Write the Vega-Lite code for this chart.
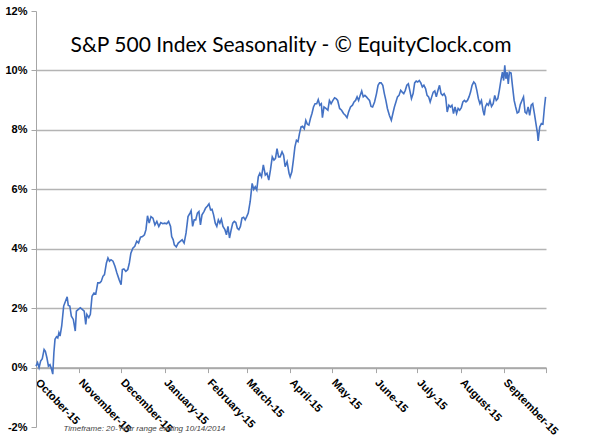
{
  "$schema": "https://vega.github.io/schema/vega-lite/v6.json",
  "autosize": {"type": "none"},
  "width": 510,
  "height": 416,
  "padding": {"left": 36, "top": 11, "right": 63, "bottom": 16},
  "background": "white",
  "title": {
    "text": "S&P 500 Index Seasonality - © EquityClock.com",
    "anchor": "middle",
    "frame": "group",
    "font": "Lato",
    "fontSize": 21,
    "fontWeight": "normal",
    "color": "#000000",
    "baseline": "alphabetic",
    "dy": 72
  },
  "config": {
    "view": {"stroke": null},
    "axis": {"labelFont": "Liberation Sans", "titleFont": "Liberation Sans"}
  },
  "data": {
    "values": [
      {"day": 0, "pct": 0.05}, {"day": 1.1, "pct": 0.17}, {"day": 2.2, "pct": 0.0}, {"day": 3.3, "pct": 0.22},
      {"day": 4.5, "pct": 0.3}, {"day": 5.8, "pct": 0.61}, {"day": 6.7, "pct": 0.55}, {"day": 7.8, "pct": 0.33},
      {"day": 8.9, "pct": 0.05}, {"day": 10.0, "pct": 0.1}, {"day": 11.1, "pct": -0.05}, {"day": 12.0, "pct": -0.22},
      {"day": 12.8, "pct": 0.5}, {"day": 13.6, "pct": 0.95}, {"day": 14.7, "pct": 1.04}, {"day": 15.6, "pct": 1.0},
      {"day": 16.4, "pct": 1.17}, {"day": 17.2, "pct": 1.06}, {"day": 18.4, "pct": 1.4}, {"day": 19.8, "pct": 2.07},
      {"day": 21.1, "pct": 2.23}, {"day": 22.3, "pct": 2.38}, {"day": 23.1, "pct": 2.09}, {"day": 24.2, "pct": 2.07},
      {"day": 25.3, "pct": 1.73}, {"day": 26.7, "pct": 1.62}, {"day": 28.1, "pct": 1.23}, {"day": 28.9, "pct": 1.9},
      {"day": 30.3, "pct": 1.96}, {"day": 31.7, "pct": 2.01}, {"day": 33.1, "pct": 1.96}, {"day": 34.5, "pct": 1.9},
      {"day": 35.6, "pct": 1.45}, {"day": 36.4, "pct": 1.79}, {"day": 37.8, "pct": 1.68}, {"day": 38.9, "pct": 1.79},
      {"day": 40.1, "pct": 2.4}, {"day": 41.5, "pct": 2.51}, {"day": 42.8, "pct": 2.48}, {"day": 44.2, "pct": 2.85},
      {"day": 45.6, "pct": 2.85}, {"day": 46.7, "pct": 2.9}, {"day": 47.9, "pct": 3.07}, {"day": 49.0, "pct": 3.13},
      {"day": 50.4, "pct": 3.52}, {"day": 51.5, "pct": 3.69}, {"day": 52.6, "pct": 3.58}, {"day": 53.7, "pct": 3.63},
      {"day": 55.1, "pct": 3.58}, {"day": 56.5, "pct": 3.41}, {"day": 57.9, "pct": 3.18}, {"day": 59.5, "pct": 2.96},
      {"day": 60.9, "pct": 2.79}, {"day": 61.8, "pct": 3.3}, {"day": 62.9, "pct": 3.32}, {"day": 64.3, "pct": 3.24},
      {"day": 65.7, "pct": 3.3}, {"day": 66.8, "pct": 3.52}, {"day": 67.9, "pct": 3.85}, {"day": 69.3, "pct": 4.02},
      {"day": 70.7, "pct": 4.08}, {"day": 72.1, "pct": 4.25}, {"day": 73.4, "pct": 4.19}, {"day": 74.8, "pct": 4.39},
      {"day": 76.2, "pct": 4.41}, {"day": 77.6, "pct": 4.47}, {"day": 78.7, "pct": 4.64}, {"day": 79.8, "pct": 5.11},
      {"day": 81.0, "pct": 4.86}, {"day": 82.3, "pct": 5.08}, {"day": 83.7, "pct": 5.03}, {"day": 85.1, "pct": 4.8},
      {"day": 86.5, "pct": 4.92}, {"day": 87.9, "pct": 4.75}, {"day": 89.3, "pct": 4.88}, {"day": 90.7, "pct": 4.84},
      {"day": 92.1, "pct": 4.86}, {"day": 93.5, "pct": 4.84}, {"day": 94.9, "pct": 4.92}, {"day": 96.3, "pct": 4.75},
      {"day": 97.1, "pct": 4.41}, {"day": 98.2, "pct": 4.3}, {"day": 99.0, "pct": 4.13}, {"day": 100.4, "pct": 4.06},
      {"day": 101.8, "pct": 4.19}, {"day": 103.2, "pct": 4.25}, {"day": 104.6, "pct": 4.3}, {"day": 106.0, "pct": 4.19},
      {"day": 107.4, "pct": 4.53}, {"day": 108.8, "pct": 5.08}, {"day": 110.2, "pct": 5.2}, {"day": 111.0, "pct": 5.28},
      {"day": 112.1, "pct": 4.75}, {"day": 113.2, "pct": 4.97}, {"day": 114.3, "pct": 4.97}, {"day": 115.5, "pct": 5.2},
      {"day": 116.6, "pct": 5.25}, {"day": 117.7, "pct": 4.8}, {"day": 118.8, "pct": 5.14}, {"day": 120.2, "pct": 5.25},
      {"day": 121.3, "pct": 5.36}, {"day": 122.7, "pct": 5.44}, {"day": 123.8, "pct": 5.51}, {"day": 124.9, "pct": 5.31},
      {"day": 126.0, "pct": 5.33}, {"day": 127.1, "pct": 5.14}, {"day": 128.3, "pct": 4.86}, {"day": 129.4, "pct": 4.75},
      {"day": 130.5, "pct": 4.97}, {"day": 131.6, "pct": 4.86}, {"day": 132.7, "pct": 4.99}, {"day": 133.8, "pct": 4.75},
      {"day": 135.2, "pct": 4.64}, {"day": 136.3, "pct": 4.47}, {"day": 137.4, "pct": 4.75}, {"day": 138.5, "pct": 4.36},
      {"day": 139.7, "pct": 4.64}, {"day": 140.8, "pct": 4.86}, {"day": 141.9, "pct": 4.92}, {"day": 143.0, "pct": 4.88},
      {"day": 144.1, "pct": 4.69}, {"day": 145.2, "pct": 4.64}, {"day": 146.3, "pct": 4.75}, {"day": 147.4, "pct": 5.03},
      {"day": 148.6, "pct": 5.06}, {"day": 149.7, "pct": 4.97}, {"day": 150.8, "pct": 5.08}, {"day": 151.9, "pct": 5.2},
      {"day": 153.3, "pct": 5.59}, {"day": 154.7, "pct": 6.2}, {"day": 155.8, "pct": 6.0}, {"day": 156.9, "pct": 6.09},
      {"day": 158.0, "pct": 5.98}, {"day": 159.1, "pct": 6.42}, {"day": 160.2, "pct": 6.54}, {"day": 161.4, "pct": 6.42},
      {"day": 162.7, "pct": 6.82}, {"day": 164.1, "pct": 6.48}, {"day": 165.3, "pct": 6.54}, {"day": 166.6, "pct": 6.31},
      {"day": 167.8, "pct": 6.65}, {"day": 169.1, "pct": 7.09}, {"day": 170.3, "pct": 6.98}, {"day": 171.4, "pct": 7.04},
      {"day": 172.5, "pct": 7.37}, {"day": 173.6, "pct": 7.09}, {"day": 174.7, "pct": 7.09}, {"day": 176.1, "pct": 7.26},
      {"day": 177.2, "pct": 7.15}, {"day": 178.3, "pct": 6.76}, {"day": 179.7, "pct": 6.93}, {"day": 181.1, "pct": 6.54},
      {"day": 181.9, "pct": 6.42}, {"day": 183.1, "pct": 6.59}, {"day": 184.2, "pct": 6.98}, {"day": 185.3, "pct": 7.43},
      {"day": 186.4, "pct": 7.65}, {"day": 187.5, "pct": 7.6}, {"day": 188.6, "pct": 7.88}, {"day": 189.7, "pct": 8.1},
      {"day": 190.8, "pct": 8.12}, {"day": 192.0, "pct": 8.04}, {"day": 193.1, "pct": 8.32}, {"day": 194.2, "pct": 8.19},
      {"day": 195.3, "pct": 8.16}, {"day": 196.4, "pct": 8.38}, {"day": 197.5, "pct": 8.55}, {"day": 198.6, "pct": 8.77},
      {"day": 199.7, "pct": 8.88}, {"day": 200.9, "pct": 8.88}, {"day": 202.0, "pct": 9.02}, {"day": 203.1, "pct": 8.83},
      {"day": 204.2, "pct": 8.88}, {"day": 205.0, "pct": 8.41}, {"day": 206.1, "pct": 8.77}, {"day": 207.5, "pct": 8.72},
      {"day": 208.9, "pct": 8.66}, {"day": 210.0, "pct": 8.99}, {"day": 211.2, "pct": 8.88}, {"day": 212.5, "pct": 8.99},
      {"day": 213.7, "pct": 9.08}, {"day": 214.8, "pct": 9.05}, {"day": 215.9, "pct": 8.99}, {"day": 217.3, "pct": 8.72},
      {"day": 218.7, "pct": 8.66}, {"day": 220.1, "pct": 8.55}, {"day": 221.4, "pct": 8.49}, {"day": 222.6, "pct": 8.41},
      {"day": 223.7, "pct": 8.6}, {"day": 225.1, "pct": 8.77}, {"day": 226.5, "pct": 8.83}, {"day": 227.6, "pct": 8.94},
      {"day": 228.7, "pct": 8.99}, {"day": 229.8, "pct": 9.11}, {"day": 230.9, "pct": 8.99}, {"day": 232.0, "pct": 9.16},
      {"day": 233.1, "pct": 9.31}, {"day": 234.2, "pct": 9.11}, {"day": 235.4, "pct": 9.16}, {"day": 236.5, "pct": 9.11},
      {"day": 237.6, "pct": 9.05}, {"day": 238.7, "pct": 8.99}, {"day": 239.8, "pct": 8.79}, {"day": 240.9, "pct": 8.77},
      {"day": 242.3, "pct": 8.94}, {"day": 243.7, "pct": 9.22}, {"day": 244.8, "pct": 9.5}, {"day": 245.9, "pct": 9.58},
      {"day": 247.0, "pct": 9.58}, {"day": 248.2, "pct": 9.5}, {"day": 249.3, "pct": 9.22}, {"day": 250.4, "pct": 8.99},
      {"day": 251.5, "pct": 8.72}, {"day": 252.9, "pct": 8.49}, {"day": 254.3, "pct": 8.32}, {"day": 255.4, "pct": 8.55},
      {"day": 256.5, "pct": 8.77}, {"day": 257.6, "pct": 8.94}, {"day": 258.7, "pct": 9.11}, {"day": 259.8, "pct": 9.16},
      {"day": 261.0, "pct": 9.33}, {"day": 262.1, "pct": 9.27}, {"day": 263.2, "pct": 9.22}, {"day": 264.3, "pct": 9.33},
      {"day": 265.4, "pct": 9.5}, {"day": 266.5, "pct": 9.55}, {"day": 267.6, "pct": 9.31}, {"day": 268.7, "pct": 9.05},
      {"day": 269.9, "pct": 9.22}, {"day": 271.0, "pct": 9.58}, {"day": 272.1, "pct": 9.64}, {"day": 273.2, "pct": 9.61},
      {"day": 274.3, "pct": 9.66}, {"day": 275.4, "pct": 9.58}, {"day": 276.5, "pct": 9.44}, {"day": 277.6, "pct": 9.5},
      {"day": 278.8, "pct": 9.39}, {"day": 279.9, "pct": 9.16}, {"day": 281.0, "pct": 9.11}, {"day": 282.1, "pct": 8.94},
      {"day": 283.2, "pct": 9.11}, {"day": 284.3, "pct": 9.27}, {"day": 285.4, "pct": 9.31}, {"day": 286.5, "pct": 9.11},
      {"day": 287.7, "pct": 9.33}, {"day": 288.8, "pct": 9.5}, {"day": 289.9, "pct": 9.22}, {"day": 291.0, "pct": 9.16},
      {"day": 292.1, "pct": 9.22}, {"day": 293.2, "pct": 9.11}, {"day": 294.3, "pct": 8.6}, {"day": 295.5, "pct": 8.83},
      {"day": 296.6, "pct": 8.77}, {"day": 297.7, "pct": 8.83}, {"day": 298.8, "pct": 8.55}, {"day": 299.9, "pct": 8.77},
      {"day": 301.0, "pct": 8.55}, {"day": 302.1, "pct": 8.72}, {"day": 303.2, "pct": 8.66}, {"day": 304.4, "pct": 8.75},
      {"day": 305.5, "pct": 8.94}, {"day": 306.6, "pct": 8.99}, {"day": 307.7, "pct": 8.94}, {"day": 308.8, "pct": 8.99},
      {"day": 309.9, "pct": 9.11}, {"day": 311.0, "pct": 9.27}, {"day": 312.1, "pct": 9.5}, {"day": 313.3, "pct": 9.61},
      {"day": 314.4, "pct": 9.55}, {"day": 315.5, "pct": 9.33}, {"day": 316.6, "pct": 9.05}, {"day": 317.7, "pct": 8.88},
      {"day": 318.8, "pct": 8.99}, {"day": 319.9, "pct": 8.66}, {"day": 320.8, "pct": 8.49}, {"day": 321.6, "pct": 8.77},
      {"day": 322.7, "pct": 8.88}, {"day": 323.8, "pct": 8.83}, {"day": 324.9, "pct": 8.99}, {"day": 326.0, "pct": 8.79},
      {"day": 327.2, "pct": 8.88}, {"day": 328.3, "pct": 9.16}, {"day": 329.4, "pct": 8.99}, {"day": 330.5, "pct": 9.05},
      {"day": 331.6, "pct": 9.33}, {"day": 332.7, "pct": 9.66}, {"day": 333.8, "pct": 9.94}, {"day": 334.7, "pct": 9.66},
      {"day": 335.5, "pct": 10.17}, {"day": 336.3, "pct": 9.72}, {"day": 337.2, "pct": 9.94}, {"day": 338.0, "pct": 9.55},
      {"day": 338.8, "pct": 9.94}, {"day": 340.0, "pct": 9.91}, {"day": 341.1, "pct": 9.44}, {"day": 342.2, "pct": 8.99},
      {"day": 343.3, "pct": 8.77}, {"day": 344.4, "pct": 8.57}, {"day": 345.5, "pct": 8.6}, {"day": 346.6, "pct": 8.85},
      {"day": 347.8, "pct": 8.99}, {"day": 348.9, "pct": 9.11}, {"day": 350.0, "pct": 8.6}, {"day": 351.1, "pct": 8.55},
      {"day": 352.2, "pct": 8.77}, {"day": 353.3, "pct": 8.49}, {"day": 354.4, "pct": 8.83}, {"day": 355.5, "pct": 8.88},
      {"day": 356.7, "pct": 8.55}, {"day": 357.8, "pct": 8.21}, {"day": 358.9, "pct": 7.88}, {"day": 359.4, "pct": 7.63},
      {"day": 360.5, "pct": 8.1}, {"day": 361.7, "pct": 8.21}, {"day": 362.8, "pct": 8.19}, {"day": 363.9, "pct": 8.77},
      {"day": 364.7, "pct": 9.11}
    ]
  },
  "mark": {"type": "line", "color": "#4472c4", "strokeWidth": 1.6, "interpolate": "linear"},
  "encoding": {
    "x": {
      "field": "day",
      "type": "quantitative",
      "scale": {"domain": [0, 365], "nice": false, "zero": false},
      "axis": {
        "values": [0, 31, 61, 92, 123, 151, 182, 212, 243, 273, 304, 335, 365],
        "labelExpr": "['October-15','November-15','December-15','January-15','February-15','March-15','April-15','May-15','June-15','July-15','August-15','September-15',''][indexof([0,31,61,92,123,151,182,212,243,273,304,335,365], datum.value)]",
        "labelAngle": 46,
        "labelAlign": "left",
        "labelBaseline": "top",
        "labelFontSize": 11,
        "labelFontWeight": "bold",
        "labelColor": "#000000",
        "labelPadding": 4,
        "labelOffset": 5,
        "labelOverlap": false,
        "labelBound": false,
        "labelFlush": false,
        "grid": false,
        "offset": -59.4,
        "domainColor": "#a6a6a6",
        "domainWidth": 1.5,
        "tickColor": "#a6a6a6",
        "tickSize": 5,
        "tickWidth": 1,
        "title": "Timeframe: 20-Year range ending 10/14/2014",
        "titleFontSize": 8,
        "titleFontStyle": "italic",
        "titleFontWeight": "normal",
        "titleColor": "#444444",
        "titleAlign": "left",
        "titleBaseline": "middle",
        "titleAngle": 0,
        "titleX": 27,
        "titleY": 61
      }
    },
    "y": {
      "field": "pct",
      "type": "quantitative",
      "scale": {"domain": [-2, 12], "nice": false, "zero": false},
      "axis": {
        "values": [-2, 0, 2, 4, 6, 8, 10, 12],
        "labelExpr": "datum.value + '%'",
        "labelFontSize": 11,
        "labelFontWeight": "bold",
        "labelColor": "#000000",
        "labelPadding": 4,
        "tickSize": 5,
        "tickColor": "#a6a6a6",
        "domainColor": "#a6a6a6",
        "domainWidth": 1,
        "grid": true,
        "gridColor": "#b4b4b4",
        "gridWidth": 1.5,
        "gridOpacity": {"condition": {"test": "datum.value == 12 || datum.value == -2", "value": 0}, "value": 1},
        "title": null
      }
    }
  }
}
